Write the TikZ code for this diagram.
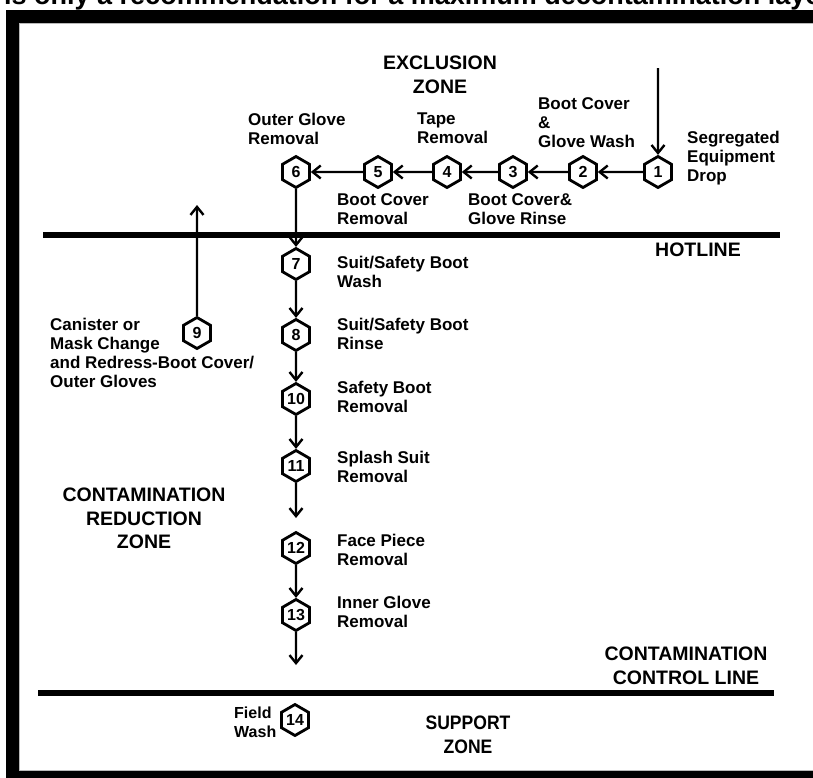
\documentclass[tikz,border=0pt]{standalone}
\usepackage{fontspec}
\setmainfont{Liberation Sans}
\usetikzlibrary{arrows.meta,shapes.geometric}

\begin{document}
\begin{tikzpicture}[x=1pt,y=-1pt,
  hexstep/.style={regular polygon, regular polygon sides=6, shape border rotate=30,
    draw, line width=2.8pt, fill=white, minimum size=31pt, inner sep=0pt,
    font=\fontsize{16}{16}\selectfont\bfseries},
  flow/.style={line width=2.4pt, -{Straight Barb[length=8pt,width=13pt]}},
  lbl/.style={font=\fontsize{17}{19}\selectfont\bfseries, align=left, inner sep=0pt, anchor=north west},
  zone/.style={font=\fontsize{19.5}{23.5}\selectfont\bfseries, align=center, inner sep=0pt},
  zoneline/.style={line width=5.5pt}
]
\useasboundingbox (0,0) rectangle (813,777);

% heading line running off the page
\node[anchor=base west, inner sep=0pt, font=\fontsize{27}{27}\selectfont\bfseries] (heading) at (4,4)
  {is only a recommendation for a maximum decontamination layout};

% outer frame
\draw[line width=13pt] (12.5,16.5) rectangle (823.5,777.5);
\draw[gray!55, line width=1pt] (19.5,23.5) rectangle (830,770.5);

% zone boundaries
\coordinate (hot-w) at (43,235);
\coordinate (hot-e) at (780,235);
\draw[zoneline] (hot-w) -- (hot-e);
\coordinate (ccl-w) at (38,693);
\coordinate (ccl-e) at (774,693);
\draw[zoneline, line width=6pt] (ccl-w) -- (ccl-e);

% zone captions
\node[zone, anchor=north] (excl) at (440,56) {EXCLUSION\\ZONE};
\node[zone, anchor=north west] (hotlbl) at (655,243) {HOTLINE};
\node[zone, anchor=north] (crz) at (144,488) {CONTAMINATION\\REDUCTION\\ZONE};
\node[zone, anchor=north] (ccl) at (686,647) {CONTAMINATION\\CONTROL LINE};
\node[zone, anchor=north, xscale=0.9] (sup) at (468,716) {SUPPORT\\ZONE};

% stations
\node[hexstep] (h1) at (658,172) {1};
\node[hexstep] (h2) at (583,172) {2};
\node[hexstep] (h3) at (513,172) {3};
\node[hexstep] (h4) at (447,172) {4};
\node[hexstep] (h5) at (378,172) {5};
\node[hexstep] (h6) at (296,172) {6};
\node[hexstep] (h7) at (296,264) {7};
\node[hexstep] (h8) at (296,335) {8};
\node[hexstep] (h9) at (197,333) {9};
\node[hexstep] (h10) at (296,399) {10};
\node[hexstep] (h11) at (296,466) {11};
\node[hexstep] (h12) at (296,548) {12};
\node[hexstep] (h13) at (296,615) {13};
\node[hexstep] (h14) at (295,720) {14};

% free ends of the flow
\coordinate (drop) at (658,68);
\coordinate (redress) at (197,205);
\coordinate (out11) at (296,518);
\coordinate (out13) at (296,665);

% flow arrows
\draw[flow] (drop) -- (h1);
\draw[flow] (h1) -- (h2);
\draw[flow] (h2) -- (h3);
\draw[flow] (h3) -- (h4);
\draw[flow] (h4) -- (h5);
\draw[flow] (h5) -- (h6);
\draw[flow] (h6) -- (h7);
\draw[flow] (h7) -- (h8);
\draw[flow] (h8) -- (h10);
\draw[flow] (h10) -- (h11);
\draw[flow] (h11) -- (out11);
\draw[flow] (h12) -- (h13);
\draw[flow] (h13) -- (out13);
\draw[flow] (h9) -- (redress);

% station captions
\node[lbl] (l1) at (687,130.7) {Segregated\\Equipment\\Drop};
\node[lbl] (l2) at (538,97.7) {Boot Cover\\\&\\Glove Wash};
\node[lbl] (l3) at (468,193.7) {Boot Cover\&\\Glove Rinse};
\node[lbl] (l4) at (417,112.7) {Tape\\Removal};
\node[lbl] (l5) at (337,193.7) {Boot Cover\\Removal};
\node[lbl] (l6) at (248,112.7) {Outer Glove\\Removal};
\node[lbl] (l7) at (337,255.7) {Suit/Safety Boot\\Wash};
\node[lbl] (l8) at (337,317.7) {Suit/Safety Boot\\Rinse};
\node[lbl] (l9) at (50,317.7) {Canister or\\Mask Change\\and Redress-Boot Cover/\\Outer Gloves};
\node[lbl] (l10) at (337,380.7) {Safety Boot\\Removal};
\node[lbl] (l11) at (337,450.7) {Splash Suit\\Removal};
\node[lbl] (l12) at (337,533.7) {Face Piece\\Removal};
\node[lbl] (l13) at (337,595.7) {Inner Glove\\Removal};
\node[lbl, font=\fontsize{16}{19}\selectfont\bfseries] (l14) at (234,707) {Field\\Wash};

\end{tikzpicture}
\end{document}
